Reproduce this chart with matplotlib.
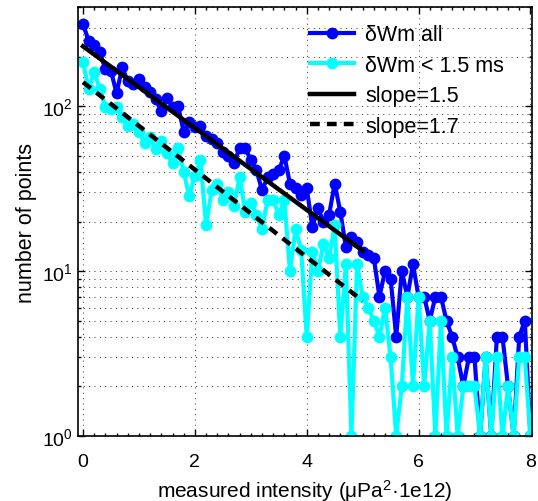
import numpy as np
import matplotlib
matplotlib.use("Agg")
import matplotlib.pyplot as plt
from matplotlib.ticker import MultipleLocator, LogLocator, NullFormatter

plt.rcParams['font.family'] = ['Liberation Sans', 'DejaVu Sans']
plt.rcParams['mathtext.fontset'] = 'custom'
plt.rcParams['mathtext.rm'] = 'Liberation Sans'
plt.rcParams['mathtext.it'] = 'Liberation Sans:italic'

# histogram bin positions (0 ... 8, step 0.1)
intensity = np.round(np.arange(81) * 0.1, 1)

# counts, all events
counts_all = [314, 250, 236, 212, 168, 163, 120, 172, 142, 136,
              146, 130, 122, 110, 93, 113, 99, 100, 70, 80,
              75, 76, 66, 63, 60, 53, 50, 45, 56, 56,
              47, 41, 31, 37, 39, 41, 50, 34, 32, 29,
              32, 18.5, 24, 20, 22, 34, 23, 14, 16, 15,
              13, 12.5, 12, 7, 10, 9, 4, 10, 7, 11,
              7, 7, 5, 7, 7, 5, 4, 3, 2, 3,
              3, 1, 3, 1, 4, 4, 2, 1, 4, 5, 1]

# counts, events with dWm < 1.5 ms
counts_short = [185, 127, 161, 127, 99, 96, 99, 86, 76, 78,
                70, 60, 65, 55, 62, 52, 45, 56, 40, 28.5,
                38, 47, 19, 31, 34, 27, 30, 25, 37, 23,
                26, 22, 18, 27, 27, 22, 27, 10, 18, 13.5,
                4, 13, 10, 14.6, 12, 19, 4, 11, 1, 11,
                7, 6, 5, 4, 6, 3, 1, 2, 7, 2,
                7, 2, 5, 1, 5, 1, 3, 1, 2, 2,
                2, 1, 3, 1, 3, 1, 2, 1, 3, 3, 1]

# power-law fits (end points)
fit1_x = [0, 5]
fit1_y = [231, 13.3]
fit2_x = [0, 5]
fit2_y = [140, 6.6]

fig = plt.figure(figsize=(5.38, 5.02), dpi=100)
ax = fig.add_axes([0.145, 0.1295, 0.844, 0.8545])

ax.plot(intensity, counts_all, '-o', color=(0, 0, 1), lw=3, ms=8.5, mew=0,
        label='δWm all')
ax.plot(intensity, counts_short, '-o', color=(0, 1, 1), lw=3, ms=8.5, mew=0,
        label='δWm < 1.5 ms')
ax.plot(fit1_x, fit1_y, '-', color='k', lw=3.2, label='slope=1.5')
ax.plot(fit2_x, fit2_y, color='k', lw=3.2, linestyle=(0, (2.2, 1.6)),
        label='slope=1.7')

ax.set_yscale('log')
ax.set_xlim(-0.09, 8.03)
ax.set_ylim(1, 400)
ax.xaxis.set_major_locator(MultipleLocator(2))
ax.xaxis.set_minor_locator(MultipleLocator(0.2))
ax.yaxis.set_minor_locator(LogLocator(base=10, subs=np.arange(2, 10)))
ax.yaxis.set_minor_formatter(NullFormatter())

ax.grid(True, which='major', linestyle=(0, (1, 4.5)), color='0.2', lw=0.7)
ax.grid(True, which='minor', axis='y', linestyle=(0, (1, 4.5)), color='0.2', lw=0.7)
ax.tick_params(which='both', direction='in', top=True, right=True,
               labelsize=14, width=1)
ax.tick_params(axis='x', which='major', pad=12)
ax.tick_params(which='major', length=5)
ax.tick_params(which='minor', length=2.5)
for s in ax.spines.values():
    s.set_linewidth(1.2)

ax.set_xlabel('measured intensity (μPa$^{2}$·1e12)', fontsize=15, labelpad=5)
ax.set_ylabel('number of points', fontsize=15.5, labelpad=4)

ax.legend(loc='upper left', bbox_to_anchor=(0.511, 0.96), frameon=False,
          fontsize=15.5, handlelength=2.05, handletextpad=0.51,
          labelspacing=0.44, borderpad=0, borderaxespad=0)

fig.savefig('out.png', dpi=100)
